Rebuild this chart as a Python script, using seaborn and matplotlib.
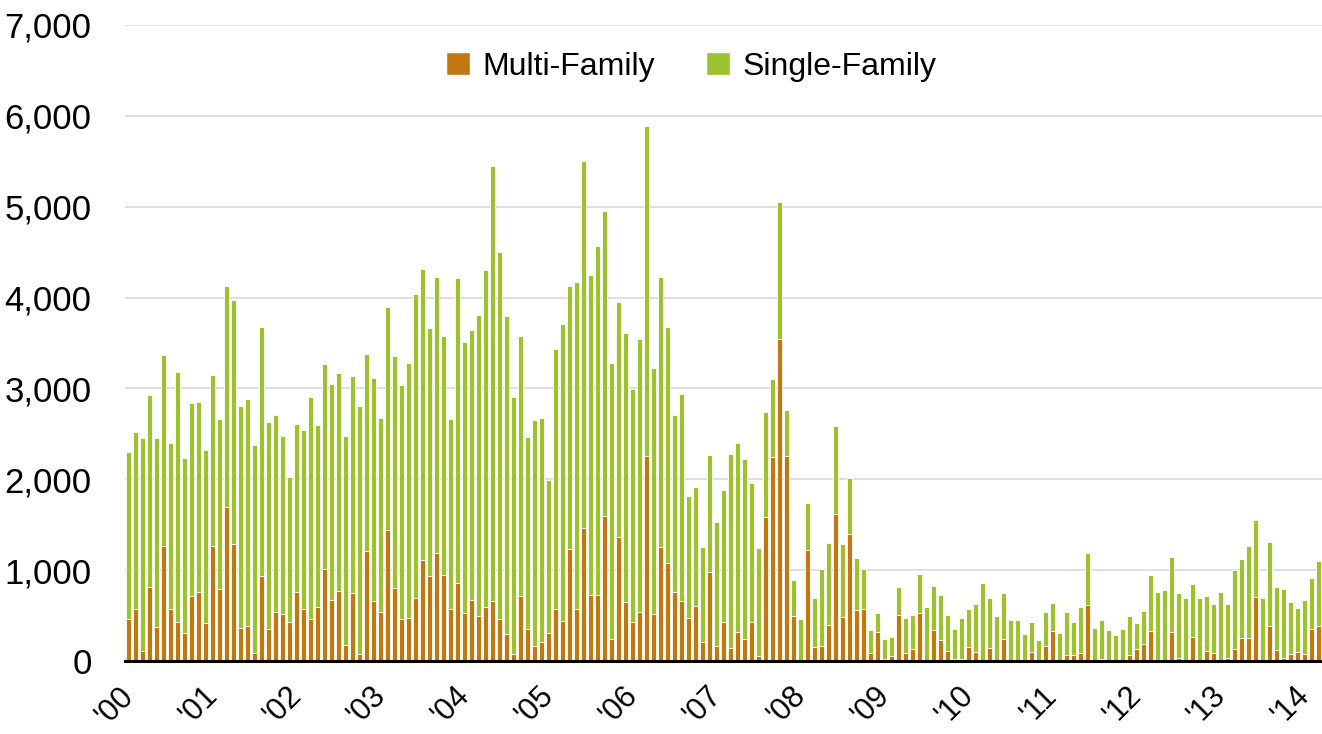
import matplotlib
matplotlib.use("Agg")
import matplotlib.pyplot as plt
from matplotlib.patches import Patch
import seaborn as sns
import pandas as pd

# monthly permits, Jan 2000 - Mar 2014
total_permits = [
    2305, 2522, 2452, 2926, 2456, 3371, 2404, 3180, 2231, 2838, 2845, 2327,
    3143, 2665, 4128, 3970, 2808, 2886, 2378, 3680, 2628, 2702, 2478, 2029,
    2603, 2540, 2900, 2595, 3268, 3050, 3172, 2480, 3136, 2802, 3381, 3114,
    2678, 3894, 3352, 3040, 3275, 4040, 4319, 3667, 4227, 3579, 2667, 4220,
    3509, 3641, 3810, 4304, 5451, 4505, 3802, 2901, 3582, 2470, 2656, 2676,
    1988, 3430, 3705, 4129, 4169, 5505, 4251, 4566, 4951, 3281, 3949, 3611,
    2998, 3544, 5886, 3222, 4224, 3674, 2711, 2939, 1811, 1913, 1257, 2267,
    1532, 1880, 2283, 2403, 2227, 1963, 1245, 2736, 3103, 5048, 2766, 890,
    458, 1740, 692, 1011, 1293, 2582, 1286, 2011, 1132, 1011, 337, 524,
    245, 260, 810, 476, 505, 957, 590, 827, 724, 504, 357, 471,
    570, 629, 860, 691, 496, 746, 448, 456, 298, 426, 232, 540,
    636, 305, 537, 430, 596, 1184, 364, 452, 342, 283, 349, 500,
    423, 548, 948, 761, 783, 1147, 746, 695, 849, 691, 717, 625,
    754, 625, 1000, 1121, 1261, 1548, 695, 1312, 809, 790, 651, 588,
    669, 912, 1095,
]
multi_family = [
    463, 570, 114, 816, 375, 1268, 570, 430, 309, 717, 761, 419,
    1268, 794, 1695, 1290, 364, 382, 88, 937, 353, 540, 518, 434,
    761, 570, 463, 599, 1015, 675, 769, 176, 747, 77, 1209, 659,
    538, 1443, 806, 462, 469, 692, 1110, 938, 1187, 945, 571, 861,
    524, 670, 491, 593, 659, 462, 297, 73, 711, 356, 169, 208,
    303, 570, 444, 1234, 570, 1458, 723, 723, 1591, 240, 1367, 652,
    428, 542, 2259, 519, 1253, 1073, 754, 664, 471, 609, 212, 982,
    169, 432, 139, 319, 238, 432, 55, 1586, 2242, 3549, 2256, 498,
    10, 1223, 150, 168, 399, 1623, 487, 1399, 560, 571, 92, 322,
    18, 59, 502, 92, 136, 532, 5, 342, 235, 114, 26, 26,
    158, 103, 0, 143, 11, 243, 0, 11, 0, 103, 0, 169,
    335, 0, 66, 66, 85, 621, 0, 26, 0, 0, 0, 70,
    132, 191, 327, 0, 0, 323, 33, 0, 261, 0, 110, 92,
    0, 33, 132, 257, 257, 709, 0, 390, 121, 37, 77, 103,
    81, 357, 390,
]
year_labels = ["'00", "'01", "'02", "'03", "'04", "'05", "'06", "'07",
               "'08", "'09", "'10", "'11", "'12", "'13", "'14"]

months = pd.date_range("2000-01-01", periods=len(total_permits), freq="MS")
df = pd.DataFrame({"month": months.strftime("%Y-%m"),
                   "total": total_permits,
                   "multi": multi_family})
df["single"] = df["total"] - df["multi"]

orange = "#c27810"
green = "#9dc22e"

sns.set_style("white")
plt.rcParams["font.family"] = ["Liberation Sans Narrow", "Liberation Sans", "DejaVu Sans"]
plt.rcParams["text.color"] = "black"
plt.rcParams["xtick.color"] = "black"
plt.rcParams["ytick.color"] = "black"

fig = plt.figure(figsize=(13.22, 7.34), dpi=100)
ax = fig.add_axes([0.0946, 0.0995, 0.9054, 0.8665])

# stacked: full height in green, multi-family drawn over the bottom in orange
sns.barplot(data=df, x="month", y="total", color=green, width=0.78,
            edgecolor="white", linewidth=0.6, saturation=1, errorbar=None, ax=ax)
sns.barplot(data=df, x="month", y="multi", color=orange, width=0.78,
            edgecolor="white", linewidth=0.6, saturation=1, errorbar=None, ax=ax)

ax.set_xlim(-0.5, len(df) - 0.5)
ax.set_ylim(0, 7000)
ax.set_yticks(range(0, 7001, 1000))
ax.set_yticklabels([f"{v:,}" for v in range(0, 7001, 1000)], fontsize=25)
ax.set_xticks(range(0, len(df), 12))
ax.set_xticklabels(year_labels, fontsize=22, rotation=45, ha="right",
                   va="center", rotation_mode="anchor")
ax.tick_params(axis="y", length=0, pad=24)
ax.tick_params(axis="x", length=0, pad=22)
ax.set_xlabel("")
ax.set_ylabel("")

ax.yaxis.grid(True, color="#d9d9d9", linewidth=1.2)
ax.set_axisbelow(True)
for side in ["top", "right", "left"]:
    ax.spines[side].set_visible(False)
ax.spines["bottom"].set_color("black")
ax.spines["bottom"].set_linewidth(2.2)
ax.spines["bottom"].set_zorder(5)

handles = [Patch(facecolor=orange, label="Multi-Family"),
           Patch(facecolor=green, label="Single-Family")]
ax.legend(handles=handles, loc="center", bbox_to_anchor=(0.473, 0.934), ncol=2,
          frameon=False, fontsize=23, handlelength=0.75, handleheight=0.75,
          handletextpad=0.4, columnspacing=1.6)

fig.savefig("out.png", dpi=100)
